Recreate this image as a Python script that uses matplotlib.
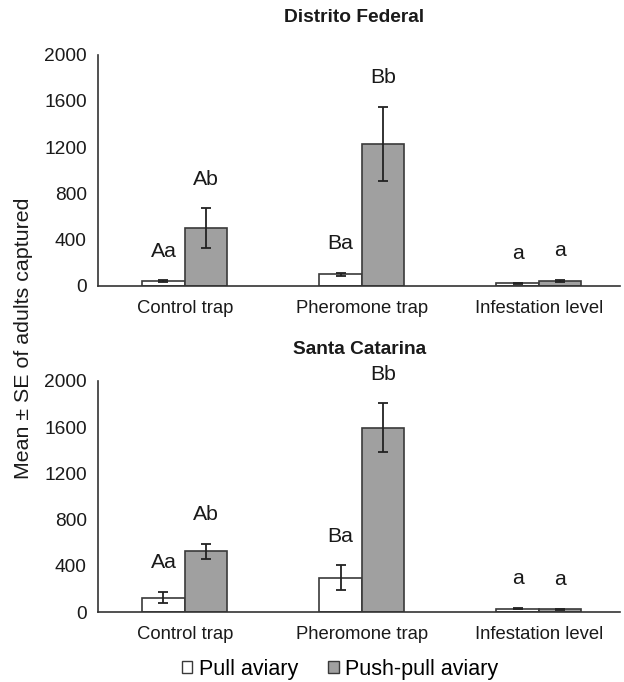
import numpy as np
import matplotlib
matplotlib.use("Agg")
import matplotlib.pyplot as plt
from matplotlib.patches import Patch

plt.rcParams['font.family'] = ['Liberation Sans', 'DejaVu Sans']

categories = ['Control trap', 'Pheromone trap', 'Infestation level']
series_names = ['Pull aviary', 'Push-pull aviary']
yticks = [0, 400, 800, 1200, 1600, 2000]

# Distrito Federal
df_pull = [40, 100, 20]
df_pull_se = [8, 12, 8]
df_push = [500, 1230, 40]
df_push_se = [170, 320, 10]
df_pull_letters = ['Aa', 'Ba', 'a']
df_push_letters = ['Ab', 'Bb', 'a']

# Santa Catarina
sc_pull = [125, 295, 30]
sc_pull_se = [50, 108, 8]
sc_push = [525, 1595, 25]
sc_push_se = [65, 210, 5]
sc_pull_letters = ['Aa', 'Ba', 'a']
sc_push_letters = ['Ab', 'Bb', 'a']

panels = [
    ('Distrito Federal', df_pull, df_pull_se, df_push, df_push_se, df_pull_letters, df_push_letters),
    ('Santa Catarina', sc_pull, sc_pull_se, sc_push, sc_push_se, sc_pull_letters, sc_push_letters),
]

fig = plt.figure(figsize=(6.24, 6.82), dpi=100)
axes_pos = [[0.157, 0.581, 0.837, 0.339], [0.157, 0.1026, 0.837, 0.339]]
title_pos = [(0.568, 0.974), (0.577, 0.487)]

edge = '#3a3a3a'
gray = '#a0a0a0'
width = 0.24
x = np.arange(len(categories))
err_style = dict(ecolor='#222222', elinewidth=1.3, capsize=3.5, capthick=1.3)

for pos, tpos, (title, pull, pull_se, push, push_se, pl, ps) in zip(axes_pos, title_pos, panels):
    ax = fig.add_axes(pos)
    ax.bar(x - width / 2, pull, width, color='white', edgecolor=edge, linewidth=1.2,
           yerr=pull_se, error_kw=err_style)
    ax.bar(x + width / 2, push, width, color=gray, edgecolor=edge, linewidth=1.2,
           yerr=push_se, error_kw=err_style)
    for i in range(len(categories)):
        ax.annotate(pl[i], (x[i] - width / 2, pull[i] + pull_se[i]), xytext=(0, 21),
                    textcoords='offset points', ha='center', va='center', fontsize=15.3,
                    color='#1a1a1a', annotation_clip=False)
        ax.annotate(ps[i], (x[i] + width / 2, push[i] + push_se[i]), xytext=(0, 21),
                    textcoords='offset points', ha='center', va='center', fontsize=15.3,
                    color='#1a1a1a', annotation_clip=False)
    ax.set_xlim(-0.49, 2.46)
    ax.set_ylim(0, 2000)
    ax.set_yticks(yticks)
    ax.set_xticks(x)
    ax.set_xticklabels(categories)
    ax.tick_params(axis='x', length=0, labelsize=13.3, colors='#1a1a1a', pad=10)
    ax.tick_params(axis='y', length=0, labelsize=13.8, colors='#1a1a1a', pad=8)
    for s in ['top', 'right']:
        ax.spines[s].set_visible(False)
    for s in ['left', 'bottom']:
        ax.spines[s].set_color('#333333')
        ax.spines[s].set_linewidth(1.2)
    fig.text(tpos[0], tpos[1], title, fontsize=13.8, fontweight='bold', ha='center', va='center',
             color='#1a1a1a')

fig.text(0.037, 0.504, 'Mean ± SE of adults captured', rotation=90, ha='center', va='center',
         fontsize=15.4, color='#1a1a1a')

handles = [Patch(facecolor='white', edgecolor=edge, label=series_names[0]),
           Patch(facecolor=gray, edgecolor=edge, label=series_names[1])]
fig.legend(handles=handles, loc='center', bbox_to_anchor=(0.545, 0.019), ncol=2, frameon=False,
           fontsize=15.5, handlelength=0.5, handleheight=0.5, handletextpad=0.3,
           columnspacing=1.4, borderpad=0)

fig.savefig('out.png', dpi=100)
